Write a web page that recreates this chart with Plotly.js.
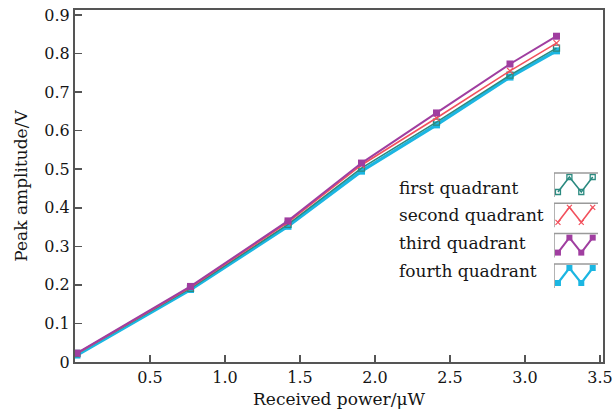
<!DOCTYPE html>
<html>
<head>
<meta charset="utf-8">
<script src="https://cdn.plot.ly/plotly-3.0.1.min.js"></script>
<style>html,body{margin:0;padding:0;background:#fff;}#chart{width:615px;height:412px;}</style>
</head>
<body>
<div id="chart"></div>
<script>
// Data
const power = [0.013, 0.77, 1.42, 1.91, 2.41, 2.90, 3.21];
const firstQ = [0.022, 0.191, 0.357, 0.503, 0.622, 0.744, 0.814];
const secondQ = [0.022, 0.194, 0.362, 0.511, 0.633, 0.755, 0.827];
const thirdQ = [0.023, 0.196, 0.366, 0.516, 0.646, 0.773, 0.845];
const fourthQ = [0.018, 0.188, 0.352, 0.495, 0.615, 0.739, 0.807];
const seriesNames = ['first quadrant', 'second quadrant', 'third quadrant', 'fourth quadrant'];
const xTickVals = [0.5, 1.0, 1.5, 2.0, 2.5, 3.0, 3.5];
const xTickText = ['0.5', '1.0', '1.5', '2.0', '2.5', '3.0', '3.5'];
const yTickVals = [0, 0.1, 0.2, 0.3, 0.4, 0.5, 0.6, 0.7, 0.8, 0.9];
const yTickText = ['0', '0.1', '0.2', '0.3', '0.4', '0.5', '0.6', '0.7', '0.8', '0.9'];
// legend icon zigzag (decorative)
const iconX = [0.09, 0.35, 0.62, 0.88];
const iconY = [19, 4, 19, 4];

const colors = ['#2b8a80', '#f2505c', '#a03ea0', '#1bb6e2'];
const font = 'DejaVu Serif, serif';
const textColor = '#151515';
const mL = 75, mR = 12, plotW = 615 - mL - mR;

const styles = [
  {line: {color: colors[0], width: 1.6}, marker: {symbol: 'square-open', size: 6, color: colors[0], line: {width: 1.3, color: colors[0]}}},
  {line: {color: colors[1], width: 1.6}, marker: {symbol: 'x-thin-open', size: 6, color: colors[1], line: {width: 1.2, color: colors[1]}}},
  {line: {color: colors[2], width: 2}, marker: {symbol: 'square', size: 7, color: colors[2]}},
  {line: {color: colors[3], width: 3.2}, marker: {symbol: 'square', size: 7, color: colors[3]}}
];
const values = [firstQ, secondQ, thirdQ, fourthQ];
const order = [3, 0, 1, 2];

const traces = [];
order.forEach(i => {
  traces.push({x: power, y: values[i], name: seriesNames[i], type: 'scatter', mode: 'lines+markers',
    line: styles[i].line, marker: styles[i].marker, showlegend: false, hoverinfo: 'skip'});
});

const rowTop = [173, 203.3, 233.6, 264];
const textY = [188, 215.5, 243, 270.5];
const shapes = [];
const annotations = [];
seriesNames.forEach((n, i) => {
  traces.push({x: iconX, y: iconY.map(v => v + rowTop[i]), xaxis: 'x2', yaxis: 'y2', type: 'scatter', mode: 'lines+markers',
    line: {color: styles[i].line.color, width: Math.min(styles[i].line.width, 2.2)}, marker: Object.assign({}, styles[i].marker, {size: styles[i].marker.size - 1}),
    showlegend: false, hoverinfo: 'skip', cliponaxis: false});
  shapes.push({type: 'path', xref: 'x2', yref: 'y2', path: `M 1 ${rowTop[i]} L 0 ${rowTop[i]} L 0 ${rowTop[i] + 24}`,
    line: {color: '#9a9a9a', width: 1.5}});
  annotations.push({xref: 'paper', yref: 'paper', x: (397 - mL) / plotW, y: (362 - textY[i]) / 352, xanchor: 'left', yanchor: 'middle',
    text: n, showarrow: false, font: {family: font, size: 17, color: textColor}});
});

const layout = {
  width: 615, height: 412,
  margin: {l: mL, r: mR, t: 10, b: 50},
  paper_bgcolor: '#fff', plot_bgcolor: '#fff',
  font: {family: font, size: 16, color: textColor},
  xaxis: {range: [0, 3.52], tickvals: xTickVals, ticktext: xTickText, ticks: 'inside', ticklen: 7, tickcolor: '#555', tickwidth: 1.5,
    showline: true, linecolor: '#555', linewidth: 2, mirror: true, showgrid: false, zeroline: false, ticklabeloverflow: 'allow',
    tickfont: {family: font, size: 16, color: textColor},
    title: {text: 'Received power/μW', font: {family: font, size: 17, color: textColor}, standoff: 7}},
  yaxis: {range: [0, 0.913], tickvals: yTickVals, ticktext: yTickText, ticks: 'inside', ticklen: 7, tickcolor: '#555', tickwidth: 1.5,
    showline: true, linecolor: '#555', linewidth: 2, mirror: true, showgrid: false, zeroline: false,
    tickfont: {family: font, size: 16, color: textColor},
    title: {text: 'Peak amplitude/V', font: {family: font, size: 17, color: textColor}, standoff: 12}},
  xaxis2: {domain: [(554 - mL) / plotW, (598 - mL) / plotW], range: [0, 1], visible: false, fixedrange: true, anchor: 'y2'},
  yaxis2: {domain: [(362 - 292) / 352, (362 - 170) / 352], range: [292, 170], visible: false, fixedrange: true, anchor: 'x2'},
  shapes: shapes,
  annotations: annotations,
  showlegend: false
};

Plotly.newPlot('chart', traces, layout, {staticPlot: true, displayModeBar: false});
</script>
</body>
</html>
